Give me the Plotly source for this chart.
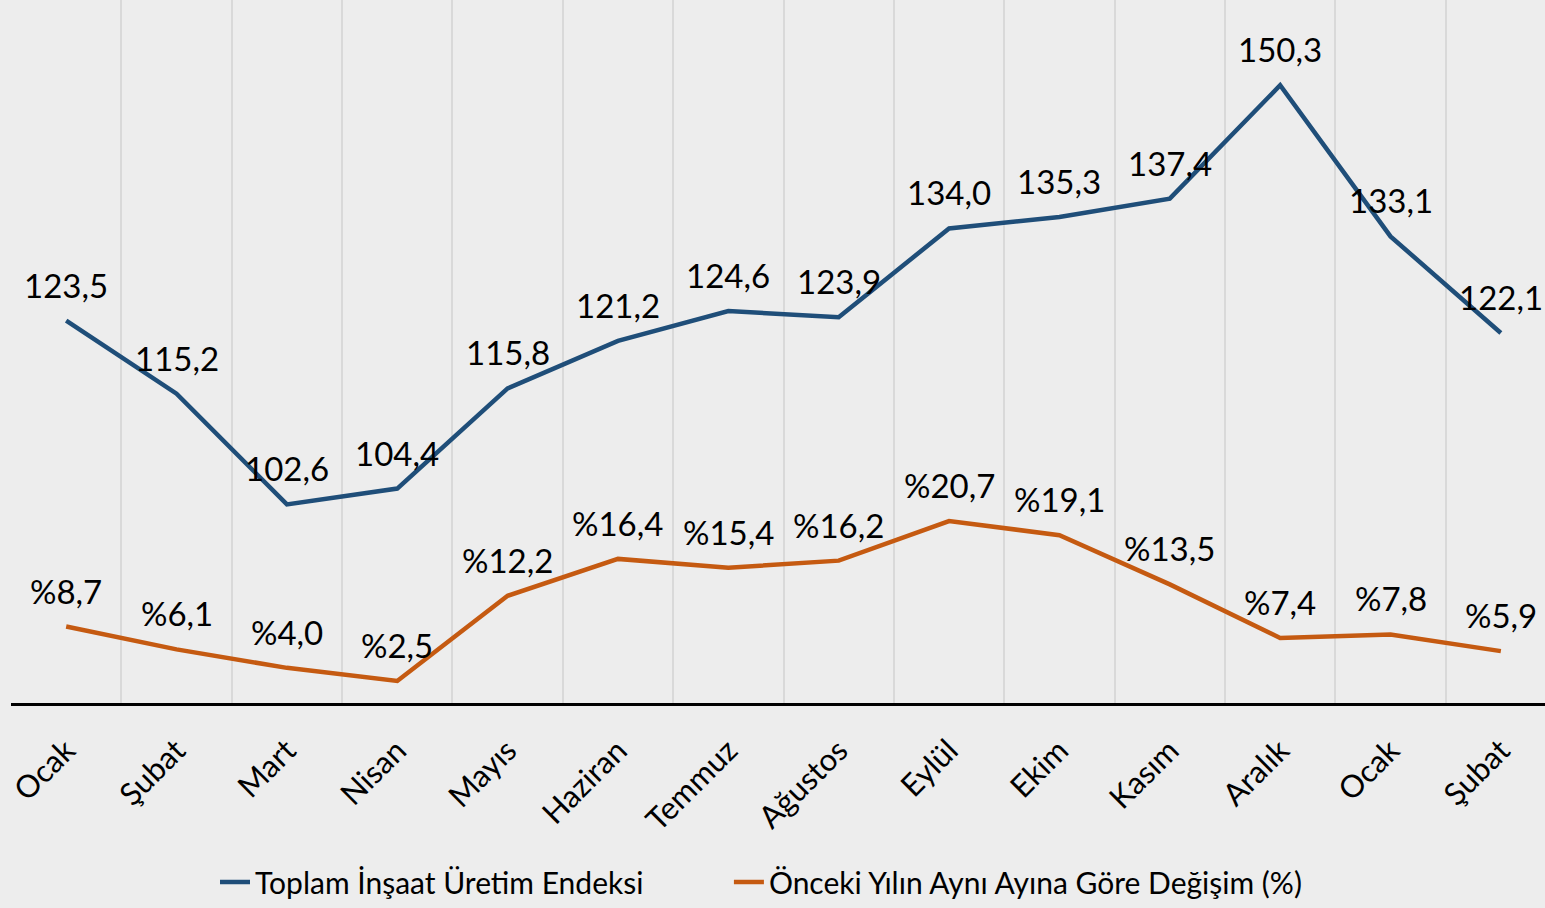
import plotly.graph_objects as go

months = ["Ocak", "Şubat", "Mart", "Nisan", "Mayıs", "Haziran", "Temmuz",
          "Ağustos", "Eylül", "Ekim", "Kasım", "Aralık", "Ocak", "Şubat"]
index_values = [123.5, 115.2, 102.6, 104.4, 115.8, 121.2, 124.6,
                123.9, 134.0, 135.3, 137.4, 150.3, 133.1, 122.1]
yoy_change = [8.7, 6.1, 4.0, 2.5, 12.2, 16.4, 15.4,
              16.2, 20.7, 19.1, 13.5, 7.4, 7.8, 5.9]

name_index = "Toplam İnşaat Üretim Endeksi"
name_change = "Önceki Yılın Aynı Ayına Göre Değişim (%)"

BLUE = "#1F4E79"
ORANGE = "#C55A11"
FONT = "Lato"
xs = list(range(len(months)))

fig = go.Figure()
fig.add_trace(go.Scatter(x=xs, y=index_values, mode="lines", name=name_index,
                         line=dict(color=BLUE, width=4.5), yaxis="y", legend="legend"))
fig.add_trace(go.Scatter(x=xs, y=yoy_change, mode="lines", name=name_change,
                         line=dict(color=ORANGE, width=4.5), yaxis="y2", legend="legend2"))

def fmt(v):
    return f"{v:.1f}".replace(".", ",")

annotations = []
for x, v in zip(xs, index_values):
    annotations.append(dict(x=x, y=v, xref="x", yref="y", text=fmt(v),
                            showarrow=False, yshift=36,
                            font=dict(family=FONT, size=33, color="black")))
for x, v in zip(xs, yoy_change):
    annotations.append(dict(x=x, y=v, xref="x", yref="y2", text="%" + fmt(v),
                            showarrow=False, yshift=36,
                            font=dict(family=FONT, size=33, color="black")))

boundaries = [i - 0.5 for i in range(len(months) + 1)]
legend_style = dict(orientation="h", xanchor="left", y=-0.255, yanchor="middle",
                    font=dict(family=FONT, size=30, color="black"),
                    bgcolor="rgba(0,0,0,0)")

fig.update_layout(
    width=1545, height=908,
    margin=dict(l=11, r=0, t=0, b=202),
    paper_bgcolor="#ededed", plot_bgcolor="#ededed",
    font=dict(family=FONT, size=28, color="black"),
    showlegend=True,
    legend=dict(x=0.133, **legend_style),
    legend2=dict(x=0.468, **legend_style),
    annotations=annotations,
    xaxis=dict(range=[-0.5, 13.4], tickmode="array", tickvals=xs, ticktext=months,
               tickangle=-45, showgrid=False, zeroline=False,
               showline=True, linecolor="black", linewidth=3,
               ticks="", ticklabelstandoff=14,
               tickfont=dict(family=FONT, size=31, color="black"),
               minor=dict(tickmode="array", tickvals=boundaries, showgrid=True,
                          gridcolor="#d9d9d9", gridwidth=2, ticks="")),
    yaxis=dict(range=[80, 160], showgrid=False, zeroline=False,
               showticklabels=False, showline=False),
    yaxis2=dict(range=[0, 80], overlaying="y", side="right", showgrid=False,
                zeroline=False, showticklabels=False, showline=False),
)

fig.write_html("out.html", config={"displayModeBar": False},
               post_script="document.body.style.margin='0';document.body.style.overflow='hidden';")
